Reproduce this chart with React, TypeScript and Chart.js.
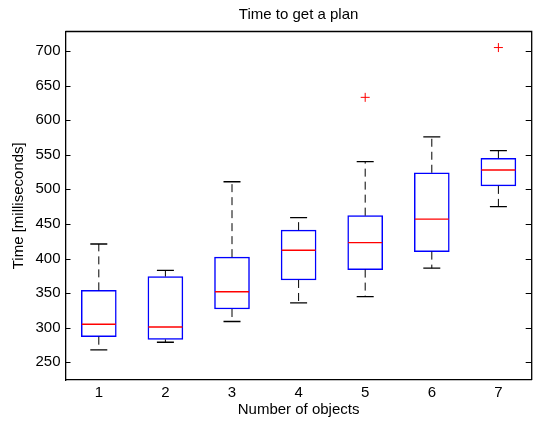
import { useEffect, useRef } from 'react';
import { Chart, registerables } from 'chart.js';

Chart.register(...registerables);

// ---- data ----
const categories = ['1', '2', '3', '4', '5', '6', '7'];
const lowerWhisker = [268, 279, 309, 336, 345, 386, 475];
const q1 = [287, 283, 327, 369, 384, 410, 505];
const medians = [305, 301, 352, 412, 423, 457, 528];
const q3 = [354, 374, 402, 441, 462, 524, 545];
const upperWhisker = [421, 383, 511, 459, 540, 576, 556];
const outlierCategories = ['5', '7'];
const outlierValues = [633, 705];
const yTicks = [250, 300, 350, 400, 450, 500, 550, 600, 650, 700];
const yMin = 224.4;
const yMax = 728.2;

const FONT = "'Liberation Sans', Arial, Helvetica, sans-serif";

const framePlugin = {
  id: 'matlabFrame',
  afterDraw(chart: any) {
    const { ctx, chartArea } = chart;
    const { left, right, top, bottom } = chartArea;
    const y = chart.scales.y;
    ctx.save();
    ctx.strokeStyle = '#000';
    ctx.lineWidth = 1.3;
    ctx.beginPath();
    ctx.moveTo(left, top);
    ctx.lineTo(right, top);
    ctx.lineTo(right, bottom);
    ctx.stroke();
    ctx.lineWidth = 1;
    ctx.beginPath();
    for (const v of yTicks) {
      const py = Math.round(y.getPixelForValue(v)) + 0.5;
      ctx.moveTo(left, py);
      ctx.lineTo(left + 5, py);
      ctx.moveTo(right - 6, py);
      ctx.lineTo(right, py);
    }
    ctx.stroke();
    ctx.restore();
  },
};

export default function App() {
  const ref = useRef<HTMLCanvasElement | null>(null);

  useEffect(() => {
    if (!ref.current) return;

    const whiskerData: any[] = [];
    categories.forEach((c, i) => {
      whiskerData.push({ x: c, y: q3[i] });
      whiskerData.push({ x: c, y: upperWhisker[i] });
      whiskerData.push({ x: c, y: null });
      whiskerData.push({ x: c, y: q1[i] });
      whiskerData.push({ x: c, y: lowerWhisker[i] });
      whiskerData.push({ x: c, y: null });
    });

    const font = { family: FONT, size: 15, weight: 'normal' as const };

    const chart = new Chart(ref.current, {
      type: 'bar',
      data: {
        labels: categories,
        datasets: [
          {
            type: 'line',
            data: outlierCategories.map((c, i) => ({ x: c, y: outlierValues[i] })),
            showLine: false,
            pointStyle: 'cross',
            pointRadius: 4.5,
            pointBorderColor: '#ff0000',
            pointBorderWidth: 1,
            order: 0,
          } as any,
          {
            type: 'line',
            data: medians,
            showLine: false,
            pointStyle: 'line',
            pointRadius: 17,
            pointBorderColor: '#ff0000',
            pointBorderWidth: 1.3,
            order: 1,
          } as any,
          {
            type: 'line',
            data: upperWhisker,
            showLine: false,
            pointStyle: 'line',
            pointRadius: 8.5,
            pointBorderColor: '#000000',
            pointBorderWidth: 1.3,
            order: 2,
          } as any,
          {
            type: 'line',
            data: lowerWhisker,
            showLine: false,
            pointStyle: 'line',
            pointRadius: 8.5,
            pointBorderColor: '#000000',
            pointBorderWidth: 1.3,
            order: 2,
          } as any,
          {
            type: 'line',
            data: whiskerData,
            borderColor: '#000000',
            borderWidth: 1,
            borderDash: [8, 5],
            pointRadius: 0,
            spanGaps: false,
            fill: false,
            order: 3,
          } as any,
          {
            type: 'bar',
            data: q1.map((v, i) => [v, q3[i]]),
            backgroundColor: 'rgba(255,255,255,1)',
            borderColor: '#0000ff',
            borderWidth: 1.5,
            borderSkipped: false,
            barThickness: 35,
            order: 4,
          } as any,
        ],
      },
      options: {
        responsive: false,
        animation: false,
        devicePixelRatio: 1,
        layout: { padding: { left: 0, right: 8.5, top: 0, bottom: 0 } },
        plugins: {
          legend: { display: false },
          tooltip: { enabled: false },
          title: {
            display: true,
            text: 'Time to get a plan',
            fullSize: false,
            color: '#000',
            font,
            padding: { top: 6, bottom: 7.5 },
          },
        },
        scales: {
          x: {
            type: 'category',
            offset: true,
            grid: { display: false, drawTicks: false, tickLength: 0 },
            border: { display: true, color: '#000', width: 1.3 },
            ticks: { color: '#000', font, padding: 3.5 },
            title: {
              display: true,
              text: 'Number of objects',
              color: '#000',
              font,
              padding: { top: 0, bottom: 2.5 },
            },
            afterFit: (s: any) => {
              s.height = 41;
            },
          },
          y: {
            type: 'linear',
            min: yMin,
            max: yMax,
            grid: { display: false, drawTicks: false, tickLength: 0 },
            border: { display: true, color: '#000', width: 1.3 },
            ticks: { color: '#000', font, padding: 5 },
            afterBuildTicks: (s: any) => {
              s.ticks = yTicks.map((v) => ({ value: v }));
            },
            title: {
              display: true,
              text: 'Time [milliseconds]',
              color: '#000',
              font,
              padding: { top: 10, bottom: 0 },
            },
            afterFit: (s: any) => {
              s.width = 65.5;
            },
          },
        },
      } as any,
      plugins: [framePlugin],
    });

    return () => chart.destroy();
  }, []);

  return (
    <div
      style={{
        position: 'absolute',
        left: 0,
        top: 0,
        width: 537,
        height: 421,
        overflow: 'hidden',
        background: '#fff',
      }}
    >
      <canvas ref={ref} width={550} height={421} style={{ display: 'block', width: 550, height: 421 }} />
    </div>
  );
}
